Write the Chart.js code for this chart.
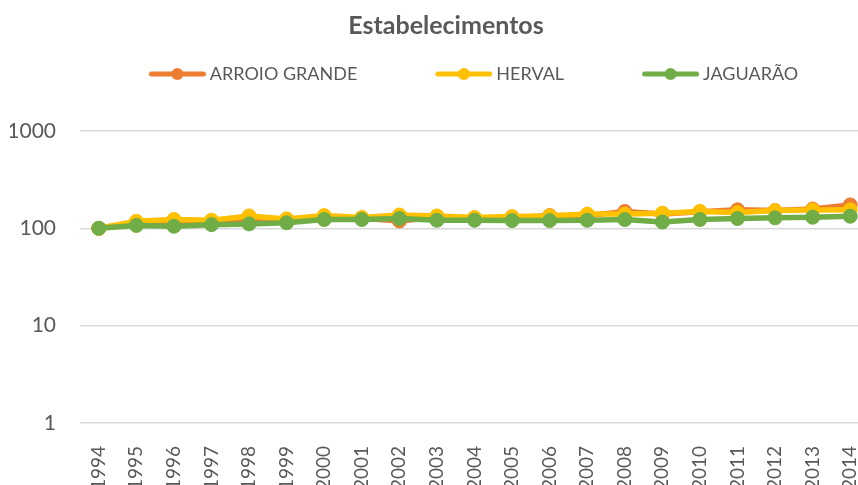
<!DOCTYPE html>
<html>
<head>
<meta charset="utf-8">
<script src="https://cdn.jsdelivr.net/npm/chart.js@4"></script>
<style>
  html, body { margin: 0; padding: 0; overflow: hidden; background: #ffffff; width: 858px; height: 485px; }
  #wrap { position: absolute; left: 0; top: 0; width: 892px; height: 505px; }
</style>
</head>
<body>
<div id="wrap"><canvas id="c"></canvas></div>
<script>
const years = ['1994','1995','1996','1997','1998','1999','2000','2001','2002','2003','2004','2005','2006','2007','2008','2009','2010','2011','2012','2013','2014'];
const arroioGrande = [100, 114, 118, 117, 125, 123, 130, 127, 119, 130, 128, 128, 135, 135, 149, 140, 148, 155, 152, 158, 174];
const herval       = [100, 118, 123, 121, 134, 125, 135, 129, 137, 134, 129, 132, 134, 140, 140, 143, 149, 145, 152, 154, 155];
const jaguarao     = [100, 107, 105, 109, 111, 114, 123, 123, 126, 121, 121, 120, 120, 121, 123, 116, 123, 126, 128, 130, 133];
const yTicks = [1, 10, 100, 1000];
const seriesNames = ['ARROIO GRANDE', 'HERVAL', 'JAGUARÃO'];
const colors = ['#ED7D31', '#FFC000', '#70AD47'];

const font = "Lato, 'Open Sans', sans-serif";
const textColor = '#595959';
const legendBox = 120;

function legendIcon(color) {
  const cv = document.createElement('canvas');
  const W = legendBox + 10;
  cv.width = W; cv.height = 14;
  const g = cv.getContext('2d');
  g.strokeStyle = color; g.lineWidth = 5; g.lineCap = 'round';
  g.beginPath(); g.moveTo(W - 54.5, 7); g.lineTo(W - 2.5, 7); g.stroke();
  g.fillStyle = color; g.beginPath(); g.arc(W - 28.5, 7, 6, 0, Math.PI * 2); g.fill();
  return cv;
}

function makeDataset(i, data, order) {
  return {
    label: seriesNames[i],
    data: data,
    borderColor: colors[i],
    backgroundColor: colors[i],
    borderWidth: 5.5,
    pointRadius: 7,
    pointBorderWidth: 1,
    pointBorderColor: colors[i],
    pointBackgroundColor: colors[i],
    tension: 0,
    order: order,
    legendIcon: legendIcon(colors[i])
  };
}

const boxShift = {
  id: 'boxShift',
  afterLayout(chart) {
    const l = chart.legend;
    if (l) { l.top -= 38; l.bottom -= 38; }
    const t = chart.titleBlock;
    if (t) { t.left += 6.5; t.right += 6.5; }
  }
};

new Chart(document.getElementById('c'), {
  type: 'line',
  data: {
    labels: years,
    datasets: [
      makeDataset(0, arroioGrande, 3),
      makeDataset(1, herval, 2),
      makeDataset(2, jaguarao, 1)
    ]
  },
  plugins: [boxShift],
  options: {
    responsive: true,
    maintainAspectRatio: false,
    animation: false,
    layout: { padding: { left: 10, right: 23, top: 6, bottom: 0 } },
    plugins: {
      tooltip: { enabled: false },
      title: {
        display: true,
        text: 'Estabelecimentos',
        color: textColor,
        font: { family: font, size: 25, weight: 'bold' },
        padding: { top: 5, bottom: 52 }
      },
      legend: {
        display: true,
        position: 'top',
        labels: {
          color: textColor,
          font: { family: font, size: 18 },
          usePointStyle: true,
          pointStyleWidth: legendBox,
          padding: 10,
          sort: (a, b) => a.datasetIndex - b.datasetIndex,
          generateLabels: (chart) => chart.data.datasets.map((ds, i) => ({
            text: ds.label,
            fillStyle: ds.backgroundColor,
            strokeStyle: ds.borderColor,
            fontColor: textColor,
            lineWidth: 0,
            pointStyle: ds.legendIcon,
            hidden: false,
            datasetIndex: i
          }))
        }
      }
    },
    scales: {
      x: {
        type: 'category',
        offset: true,
        grid: { display: false },
        border: { display: false },
        ticks: {
          color: textColor,
          font: { family: font, size: 19 },
          minRotation: 90,
          maxRotation: 90,
          autoSkip: false,
          padding: 15
        }
      },
      y: {
        type: 'logarithmic',
        min: 1,
        max: 1000,
        afterBuildTicks: (axis) => { axis.ticks = yTicks.map(v => ({ value: v })); },
        afterFit: (axis) => { axis.width = 70; },
        grid: { color: '#D9D9D9', lineWidth: 1.5, drawTicks: false },
        border: { display: false },
        ticks: {
          color: textColor,
          font: { family: font, size: 21 },
          padding: 24,
          callback: (v) => String(v)
        }
      }
    }
  }
});
</script>
</body>
</html>
